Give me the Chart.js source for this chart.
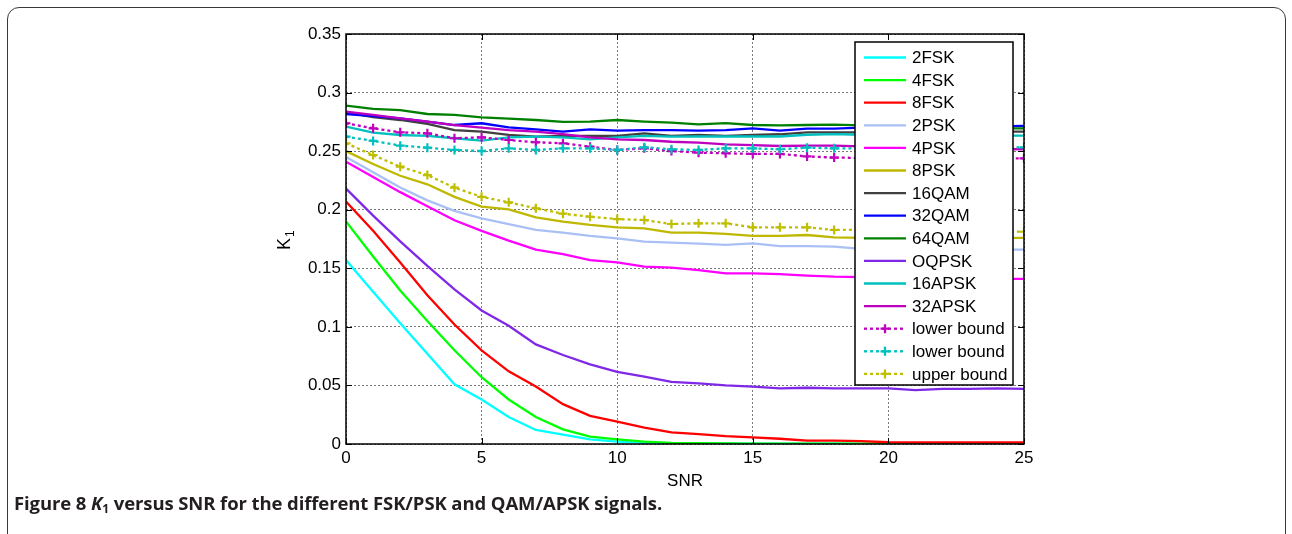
<!DOCTYPE html>
<html>
<head>
<meta charset="utf-8">
<script src="https://cdn.jsdelivr.net/npm/chart.js@4.4.1/dist/chart.umd.min.js"></script>
<style>
  body { margin: 0; background: #fff; }
  #wrap { position: relative; width: 1292px; height: 534px; overflow: hidden; background: #fff; }
  #frame { position: absolute; left: 7px; top: 7px; width: 1277px; height: 560px; border: 1px solid #3a3a3a; border-radius: 12px; }
  #chartBox { position: absolute; left: 0; top: 0; width: 1292px; height: 534px; }
  #caption { position: absolute; left: 14px; top: 490px; font: bold 18.5px "Open Sans", sans-serif; letter-spacing: -0.1px; color: #231f20; white-space: nowrap; }
  #caption sub { font-size: 12px; vertical-align: -3px; line-height: 0; }
</style>
</head>
<body>
<div id="wrap">
  <div id="frame"></div>
  <div id="chartBox"><canvas id="k1Chart"></canvas></div>
  <div id="caption">Figure 8 <i>K</i><sub>1</sub> versus SNR for the different FSK/PSK and QAM/APSK signals.</div>
</div>
<script>
// SNR grid and axis tick labels
const snr = [0, 1, 2, 3, 4, 5, 6, 7, 8, 9, 10, 11, 12, 13, 14, 15, 16, 17, 18, 19, 20, 21, 22, 23, 24, 25];
const xTickLabels = ["0", "5", "10", "15", "20", "25"];
const yTickLabels = ["0", "0.05", "0.1", "0.15", "0.2", "0.25", "0.3", "0.35"];

// K1 values per modulation
const fsk2 = [0.157, 0.130, 0.103, 0.077, 0.051, 0.038, 0.023, 0.012, 0.008, 0.004, 0.002, 0.001, 0.0005, 0.0004, 0.0003, 0.0003, 0.0002, 0.0002, 0.0002, 0.0001, 0.0001, 0.0001, 0.0001, 0.0001, 0.0001, 0.0001];
const fsk4 = [0.190, 0.160, 0.131, 0.105, 0.080, 0.057, 0.038, 0.023, 0.0125, 0.0063, 0.004, 0.002, 0.001, 0.0007, 0.0005, 0.0004, 0.0003, 0.0003, 0.0002, 0.0002, 0.0002, 0.0001, 0.0001, 0.0001, 0.0001, 0.0001];
const fsk8 = [0.207, 0.182, 0.155, 0.127, 0.102, 0.080, 0.062, 0.049, 0.034, 0.024, 0.019, 0.014, 0.010, 0.0085, 0.0068, 0.0057, 0.0045, 0.0028, 0.0028, 0.0025, 0.0015, 0.0013, 0.0013, 0.0013, 0.0013, 0.0013];
const psk2 = [0.245, 0.232, 0.219, 0.208, 0.199, 0.1927, 0.1878, 0.1827, 0.1804, 0.1776, 0.1756, 0.1727, 0.1719, 0.171, 0.170, 0.1713, 0.169, 0.169, 0.1685, 0.1665, 0.1665, 0.166, 0.166, 0.1665, 0.166, 0.166];
const psk4 = [0.241, 0.228, 0.215, 0.203, 0.191, 0.182, 0.1736, 0.166, 0.162, 0.157, 0.155, 0.1514, 0.1505, 0.1485, 0.1457, 0.1457, 0.1451, 0.1437, 0.1428, 0.1425, 0.1425, 0.142, 0.1418, 0.1415, 0.141, 0.141];
const psk8 = [0.250, 0.239, 0.229, 0.2217, 0.211, 0.2026, 0.2003, 0.1935, 0.1898, 0.187, 0.185, 0.184, 0.1804, 0.1804, 0.1793, 0.1776, 0.1776, 0.1784, 0.1764, 0.1759, 0.1764, 0.1762, 0.1762, 0.176, 0.176, 0.176];
const qam16 = [0.2831, 0.279, 0.2766, 0.2732, 0.268, 0.2666, 0.2638, 0.2624, 0.263, 0.263, 0.263, 0.2652, 0.263, 0.2638, 0.263, 0.2638, 0.2644, 0.266, 0.266, 0.266, 0.2665, 0.2665, 0.2667, 0.2667, 0.2667, 0.2667];
const qam32 = [0.2817, 0.280, 0.278, 0.2752, 0.2723, 0.2738, 0.2703, 0.2686, 0.2666, 0.2686, 0.2675, 0.268, 0.268, 0.2675, 0.268, 0.2695, 0.2675, 0.2692, 0.2692, 0.270, 0.270, 0.2705, 0.271, 0.271, 0.2712, 0.2715];
const qam64 = [0.2888, 0.286, 0.2851, 0.2817, 0.2809, 0.2789, 0.2777, 0.2766, 0.275, 0.2752, 0.2766, 0.2752, 0.2743, 0.2729, 0.274, 0.2723, 0.272, 0.2723, 0.2726, 0.272, 0.272, 0.2715, 0.271, 0.270, 0.2695, 0.2695];
const oqpsk = [0.218, 0.195, 0.173, 0.152, 0.132, 0.114, 0.101, 0.085, 0.076, 0.068, 0.0615, 0.0575, 0.053, 0.0518, 0.050, 0.049, 0.0475, 0.048, 0.0475, 0.0475, 0.0475, 0.046, 0.047, 0.047, 0.0475, 0.047];
const apsk16 = [0.2709, 0.2658, 0.2638, 0.263, 0.261, 0.2589, 0.2618, 0.2624, 0.2617, 0.2601, 0.2618, 0.263, 0.2624, 0.2625, 0.2625, 0.2625, 0.2625, 0.264, 0.2645, 0.264, 0.264, 0.2635, 0.2635, 0.2632, 0.2632, 0.2632];
const apsk32 = [0.2837, 0.2809, 0.278, 0.2752, 0.2723, 0.270, 0.268, 0.2666, 0.2646, 0.2618, 0.2601, 0.2595, 0.258, 0.2572, 0.2558, 0.2552, 0.2544, 0.2547, 0.2547, 0.254, 0.2535, 0.253, 0.2525, 0.252, 0.2518, 0.2516];
const lowerQam = [0.2738, 0.2695, 0.2661, 0.2652, 0.261, 0.2618, 0.2595, 0.2576, 0.2567, 0.2538, 0.251, 0.2524, 0.2501, 0.2487, 0.2482, 0.2476, 0.2476, 0.2455, 0.2445, 0.2442, 0.244, 0.244, 0.244, 0.2439, 0.2439, 0.2439];
const lowerApsk = [0.2624, 0.2587, 0.2547, 0.253, 0.251, 0.2501, 0.2524, 0.251, 0.2524, 0.2524, 0.251, 0.2533, 0.2516, 0.251, 0.2524, 0.2524, 0.2516, 0.253, 0.2524, 0.2524, 0.2524, 0.2525, 0.2525, 0.2528, 0.253, 0.2533];
const upperPsk = [0.2567, 0.2467, 0.2367, 0.2296, 0.2188, 0.211, 0.2063, 0.2012, 0.1966, 0.194, 0.192, 0.1912, 0.1878, 0.1884, 0.1884, 0.185, 0.185, 0.185, 0.1827, 0.183, 0.183, 0.1825, 0.182, 0.182, 0.1815, 0.1812];

const FONT = "'Liberation Sans', Arial, sans-serif";

function toPoints(vals) {
  return vals.map((v, i) => ({ x: snr[i], y: v }));
}

function solidLine(label, vals, color) {
  return { label, data: toPoints(vals), borderColor: color, backgroundColor: color, borderWidth: 2.3, pointRadius: 0 };
}

function boundLine(label, vals, color) {
  return {
    label, data: toPoints(vals), borderColor: color, backgroundColor: color,
    borderWidth: 2.3, borderDash: [3, 3], pointStyle: "cross", pointRadius: 4.5,
    pointBorderWidth: 2.2, pointBorderColor: color
  };
}

const datasets = [
  solidLine("2FSK", fsk2, "#00ffff"),
  solidLine("4FSK", fsk4, "#00ff00"),
  solidLine("8FSK", fsk8, "#ff0000"),
  solidLine("2PSK", psk2, "#aac0f5"),
  solidLine("4PSK", psk4, "#ff00ff"),
  solidLine("8PSK", psk8, "#bfb800"),
  solidLine("16QAM", qam16, "#404040"),
  solidLine("32QAM", qam32, "#0000ff"),
  solidLine("64QAM", qam64, "#008000"),
  solidLine("OQPSK", oqpsk, "#8028e8"),
  solidLine("16APSK", apsk16, "#00bfbf"),
  solidLine("32APSK", apsk32, "#bf00bf"),
  boundLine("lower bound", lowerQam, "#bf00bf"),
  boundLine("lower bound", lowerApsk, "#00bfbf"),
  boundLine("upper bound", upperPsk, "#bfbf00")
];
// later series drawn on top
datasets.forEach((d, i) => { d.order = datasets.length - i; });

// box, inward ticks, axis titles and the legend panel
const matlabAxes = {
  id: "matlabAxes",
  afterDatasetsDraw(chart) {
    const { ctx, chartArea: a, scales } = chart;
    const x = scales.x, y = scales.y;
    ctx.save();
    ctx.strokeStyle = "#000";
    ctx.lineWidth = 1;
    ctx.beginPath();
    x.ticks.forEach(t => {
      const px = Math.round(x.getPixelForValue(t.value)) + 0.5;
      ctx.moveTo(px, a.bottom); ctx.lineTo(px, a.bottom - 6);
      ctx.moveTo(px, a.top); ctx.lineTo(px, a.top + 6);
    });
    y.ticks.forEach(t => {
      const py = Math.round(y.getPixelForValue(t.value)) + 0.5;
      ctx.moveTo(a.left, py); ctx.lineTo(a.left + 6, py);
      ctx.moveTo(a.right, py); ctx.lineTo(a.right - 6, py);
    });
    ctx.stroke();
    ctx.lineWidth = 1.5;
    ctx.strokeRect(a.left, a.top, a.right - a.left, a.bottom - a.top);

    // axis titles
    ctx.fillStyle = "#000";
    ctx.font = "17px " + FONT;
    ctx.textAlign = "center";
    ctx.textBaseline = "alphabetic";
    ctx.fillText("SNR", (a.left + a.right) / 2, 486);
    ctx.translate(290, 241);
    ctx.rotate(-Math.PI / 2);
    ctx.textAlign = "left";
    ctx.font = "18px " + FONT;
    ctx.fillText("K", -9, 0);
    ctx.font = "12px " + FONT;
    ctx.fillText("1", 4, 4);
    ctx.restore();

    // legend
    const box = { left: 855, top: 42, right: 1013, bottom: 385 };
    ctx.save();
    ctx.fillStyle = "#fff";
    ctx.fillRect(box.left, box.top, box.right - box.left, box.bottom - box.top);
    ctx.strokeStyle = "#000";
    ctx.lineWidth = 1.5;
    ctx.strokeRect(box.left, box.top, box.right - box.left, box.bottom - box.top);
    ctx.font = "17px " + FONT;
    ctx.textBaseline = "middle";
    ctx.textAlign = "left";
    chart.data.datasets.forEach((d, i) => {
      const ry = 57.5 + i * 22.6;
      ctx.strokeStyle = d.borderColor;
      ctx.lineWidth = d.borderWidth;
      ctx.setLineDash(d.borderDash || []);
      ctx.beginPath();
      ctx.moveTo(864, ry); ctx.lineTo(906, ry);
      ctx.stroke();
      ctx.setLineDash([]);
      if (d.pointStyle === "cross") {
        ctx.beginPath();
        ctx.moveTo(885 - d.pointRadius, ry); ctx.lineTo(885 + d.pointRadius, ry);
        ctx.moveTo(885, ry - d.pointRadius); ctx.lineTo(885, ry + d.pointRadius);
        ctx.stroke();
      }
      ctx.fillStyle = "#000";
      ctx.fillText(d.label, 912, ry + 1);
    });
    ctx.restore();
  }
};

new Chart(document.getElementById("k1Chart"), {
  type: "line",
  data: { datasets },
  options: {
    responsive: true,
    maintainAspectRatio: false,
    animation: false,
    layout: { padding: { left: 286, right: 268, top: 34, bottom: 40 } },
    elements: { line: { tension: 0 } },
    plugins: { legend: { display: false }, tooltip: { enabled: false } },
    scales: {
      x: {
        type: "linear", min: 0, max: 25,
        afterFit(scale) { scale.height = 50; },
        ticks: { stepSize: 5, padding: 4, color: "#000", font: { size: 17, family: FONT }, maxRotation: 0,
                 callback: (v, i) => xTickLabels[i] },
        grid: { color: "#7a7a7a", lineWidth: 1, drawTicks: false },
        border: { display: false, dash: [2, 2] }
      },
      y: {
        type: "linear", min: 0, max: 0.35,
        afterFit(scale) { scale.width = 60; },
        ticks: { stepSize: 0.05, padding: 5, color: "#000", font: { size: 17, family: FONT },
                 callback: (v, i) => yTickLabels[i] },
        grid: { color: "#7a7a7a", lineWidth: 1, drawTicks: false },
        border: { display: false, dash: [2, 2] }
      }
    }
  },
  plugins: [matlabAxes]
});
</script>
</body>
</html>
